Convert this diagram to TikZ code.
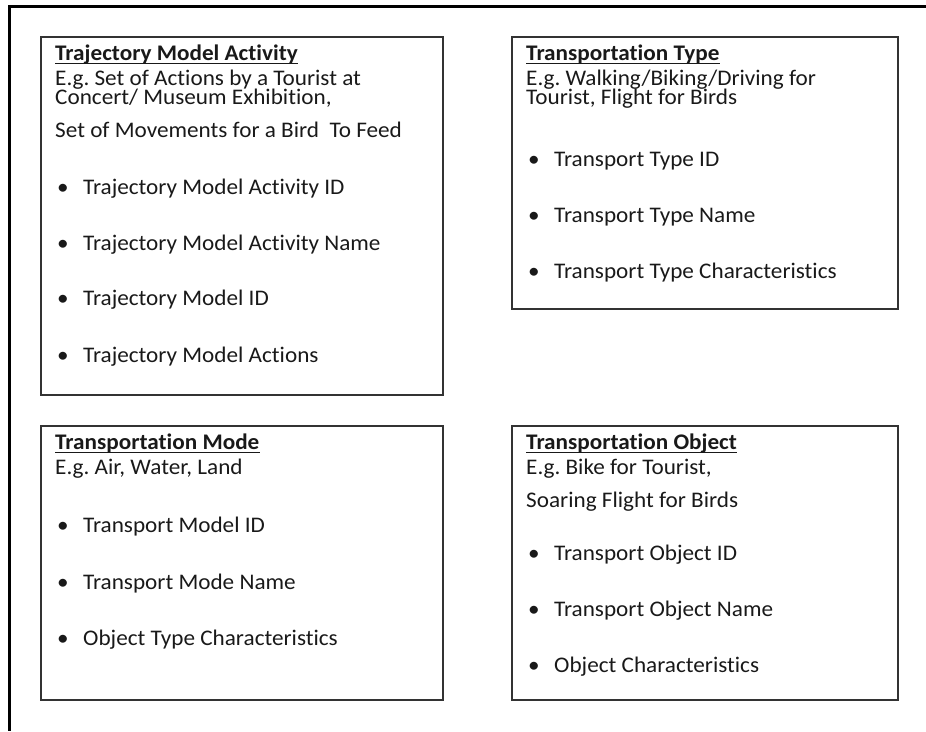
\documentclass[tikz,border=0pt]{standalone}
\usepackage{fontspec}
\setmainfont{Carlito}[Ligatures=NoCommon,FakeStretch=1.04]
\frenchspacing
\newcommand\mytightlines{\lineskiplimit=-30pt\relax\lineskip=0pt\relax}
\begin{document}
\begin{tikzpicture}[x=1pt,y=-1pt,
  box/.style={draw=black!80,line width=1.3pt},
  frame/.style={draw=black,line width=3pt},
  txt/.style={anchor=base west,inner sep=0pt,font=\fontsize{22.3}{26}\selectfont,text=black!90},
  txttwo/.style={txt,align=left,font=\fontsize{22.3}{19}\selectfont\mytightlines},
  ttl/.style={txt,font=\fontsize{22.3}{26}\selectfont\bfseries},
  uline/.style={draw=black!90,line width=1.2pt}]
\useasboundingbox (0,0) rectangle (926,731);
% outer frame (top and left)
\coordinate (fa) at (926,6.5);
\coordinate (fb) at (9.5,6.5);
\coordinate (fc) at (9.5,731);
\draw[frame] (fa) -- (fb) -- (fc);
% boxes
\draw[box] (41,37) rectangle (443,395);
\draw[box] (512,37) rectangle (898,309);
\draw[box] (41,426) rectangle (443,700);
\draw[box] (512,426) rectangle (898,700);
% Box 1
\node[ttl] (t1) at (55,60.5) {Trajectory Model Activity};
\draw[uline] ([yshift=-3pt]t1.base west) -- ([yshift=-3pt]t1.base east);
\node[txttwo] (a1) at (55,104.5) {E.g. Set of Actions by a Tourist at\\Concert/ Museum Exhibition,};
\node[txt] (a3) at (55,137) {Set of Movements for a Bird\ \ To Feed};
\node[txt] (b11) at (57,194) {•};
\node[txt] (c11) at (83,194) {Trajectory Model Activity ID};
\node[txt] (b12) at (57,250) {•};
\node[txt] (c12) at (83,250) {Trajectory Model Activity Name};
\node[txt] (b13) at (57,305) {•};
\node[txt] (c13) at (83,305) {Trajectory Model ID};
\node[txt] (b14) at (57,362) {•};
\node[txt] (c14) at (83,362) {Trajectory Model Actions};
% Box 2
\node[ttl] (t2) at (526,60.5) {Transportation Type};
\draw[uline] ([yshift=-3pt]t2.base west) -- ([yshift=-3pt]t2.base east);
\node[txttwo] (d1) at (526,104.5) {E.g. Walking/Biking/Driving for\\Tourist, Flight for Birds};
\node[txt] (b21) at (528,166) {•};
\node[txt] (c21) at (554,166) {Transport Type ID};
\node[txt] (b22) at (528,222) {•};
\node[txt] (c22) at (554,222) {Transport Type Name};
\node[txt] (b23) at (528,278) {•};
\node[txt] (c23) at (554,278) {Transport Type Characteristics};
% Box 3
\node[ttl] (t3) at (55,449.5) {Transportation Mode};
\draw[uline] ([yshift=-3pt]t3.base west) -- ([yshift=-3pt]t3.base east);
\node[txt] (e1) at (55,474) {E.g. Air, Water, Land};
\node[txt] (b31) at (57,532) {•};
\node[txt] (c31) at (83,532) {Transport Model ID};
\node[txt] (b32) at (57,589) {•};
\node[txt] (c32) at (83,589) {Transport Mode Name};
\node[txt] (b33) at (57,645) {•};
\node[txt] (c33) at (83,645) {Object Type Characteristics};
% Box 4
\node[ttl] (t4) at (526,449.5) {Transportation Object};
\draw[uline] ([yshift=-3pt]t4.base west) -- ([yshift=-3pt]t4.base east);
\node[txt] (f1) at (526,474) {E.g. Bike for Tourist,};
\node[txt] (f2) at (526,507) {Soaring Flight for Birds};
\node[txt] (b41) at (528,560) {•};
\node[txt] (c41) at (554,560) {Transport Object ID};
\node[txt] (b42) at (528,616) {•};
\node[txt] (c42) at (554,616) {Transport Object Name};
\node[txt] (b43) at (528,672) {•};
\node[txt] (c43) at (554,672) {Object Characteristics};
\end{tikzpicture}
\end{document}
